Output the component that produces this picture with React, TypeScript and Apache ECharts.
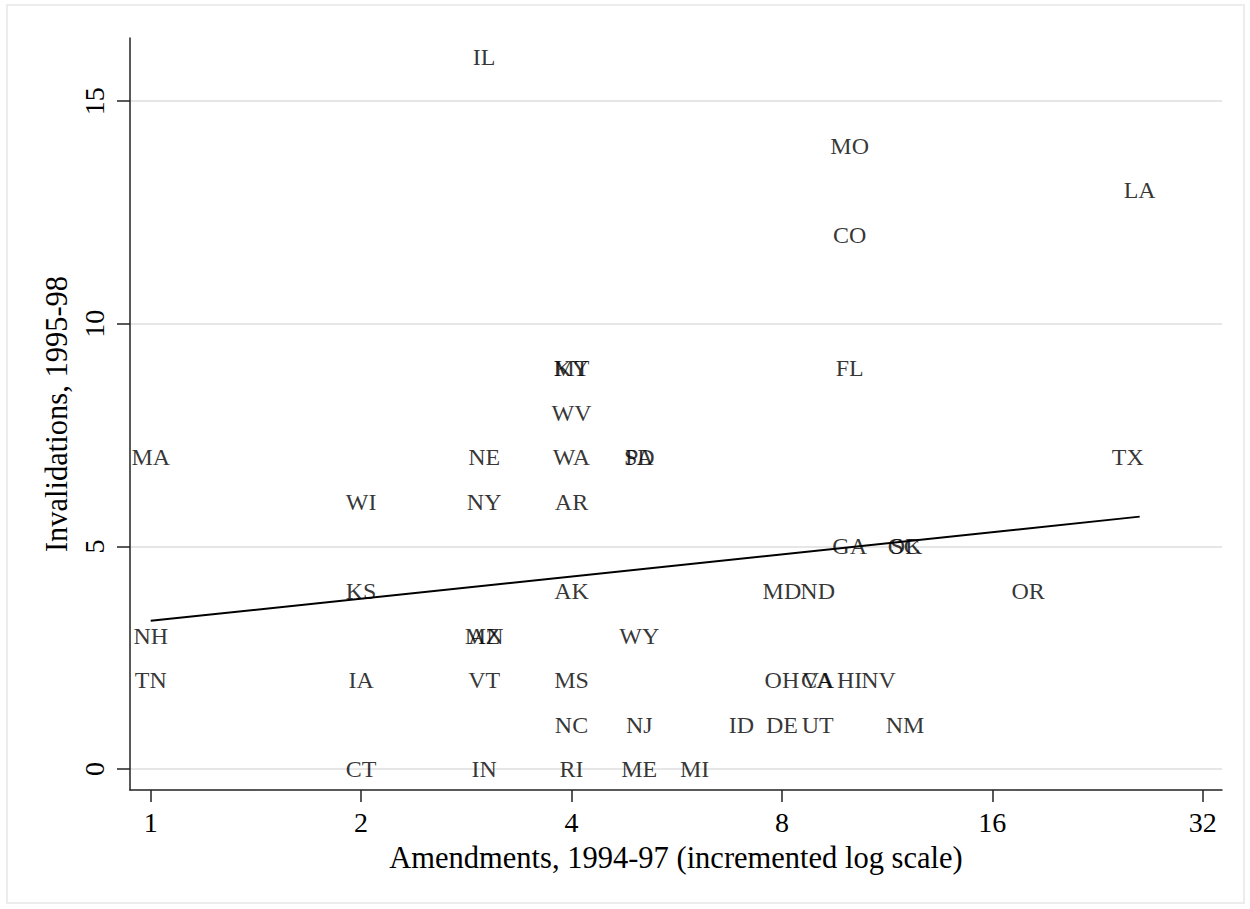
import React, { useEffect, useRef } from "react";
import * as echarts from "echarts";

// Amendments 1994-97 (incremented, i.e. amendments + 1), invalidations 1995-98, state
const states = ["IL","MO","LA","CO","KY","MT","FL","WV","MA","NE","WA","PA","SD","TX","WI","NY","AR","GA","SC","OK","KS","AK","MD","ND","OR","NH","AZ","MN","WY","TN","IA","VT","MS","OH","CA","VA","HI","NV","NC","NJ","ID","DE","UT","NM","CT","IN","RI","ME","MI"];
const amendments = [3,10,26,10,4,4,10,4,1,3,4,5,5,25,2,3,4,10,12,12,2,4,8,9,18,1,3,3,5,1,2,3,4,8,9,9,10,11,4,5,7,8,9,12,2,3,4,5,6];
const invalidations = [16,14,13,12,9,9,9,8,7,7,7,7,7,7,6,6,6,5,5,5,4,4,4,4,4,3,3,3,3,2,2,2,2,2,2,2,2,2,1,1,1,1,1,1,0,0,0,0,0];

// fitted line end points
const fitX = [1, 26];
const fitY = [3.33, 5.67];

const xTicks = [1, 2, 4, 8, 16, 32];
const yTicks = [0, 5, 10, 15];

const FONT = "'Liberation Serif', 'Times New Roman', serif";

export default function App() {
  const ref = useRef<HTMLDivElement>(null);
  useEffect(() => {
    if (!ref.current) return;
    const chart = echarts.init(ref.current, undefined, { renderer: "svg" });
    const pts = states.map((s, i) => ({ name: s, value: [amendments[i], invalidations[i]] }));
    chart.setOption({
      animation: false,
      backgroundColor: "#ffffff",
      graphic: [
        {
          type: "rect",
          shape: { x: 7, y: 5, width: 1237, height: 898 },
          style: { fill: "none", stroke: "#ececec", lineWidth: 2 },
          silent: true,
        },
      ],
      grid: { left: 130, right: 28, top: 38, bottom: 119 },
      xAxis: {
        type: "log",
        logBase: 2,
        min: 0.934,
        max: 34.1,
        name: "Amendments, 1994-97 (incremented log scale)",
        nameLocation: "middle",
        nameGap: 52,
        nameTextStyle: { fontFamily: FONT, fontSize: 30.5, color: "#000" },
        axisLine: { onZero: false, lineStyle: { color: "#222", width: 1.5 } },
        axisTick: { show: true, length: 12, customValues: xTicks, lineStyle: { color: "#222", width: 1.5 } },
        axisLabel: { customValues: xTicks, fontFamily: FONT, fontSize: 28, color: "#000", margin: 18 },
        splitLine: { show: false },
      },
      yAxis: {
        type: "value",
        min: -0.47,
        max: 16.42,
        name: "Invalidations, 1995-98",
        nameLocation: "middle",
        nameGap: 55,
        nameRotate: 90,
        nameTextStyle: { fontFamily: FONT, fontSize: 30.5, color: "#000" },
        axisLine: { show: true, onZero: false, lineStyle: { color: "#222", width: 1.5 } },
        axisTick: { show: true, length: 13, customValues: yTicks, lineStyle: { color: "#222", width: 1.5 } },
        axisLabel: { customValues: yTicks, rotate: 90, fontFamily: FONT, fontSize: 28, color: "#000", margin: 22 },
        splitLine: { show: false },
      },
      series: [
        {
          type: "line",
          z: 1,
          data: [],
          silent: true,
          markLine: {
            z: 0,
            silent: true,
            symbol: "none",
            label: { show: false },
            lineStyle: { color: "#e6e6e6", width: 2, type: "solid" },
            data: yTicks.map((v) => ({ yAxis: v })),
          },
        },
        {
          type: "line",
          z: 3,
          data: fitX.map((x, i) => [x, fitY[i]]),
          symbol: "none",
          lineStyle: { color: "#000", width: 2 },
          silent: true,
        },
        {
          type: "scatter",
          z: 6,
          symbolSize: 0,
          data: pts,
          label: {
            show: true,
            position: "inside",
            formatter: (p: any) => p.name,
            fontFamily: FONT,
            fontSize: 24,
            color: "#000",
          },
          silent: true,
        },
      ],
    });
    return () => chart.dispose();
  }, []);
  return <div ref={ref} style={{ position: "absolute", left: 0, top: 0, width: 1250, height: 909 }} />;
}
